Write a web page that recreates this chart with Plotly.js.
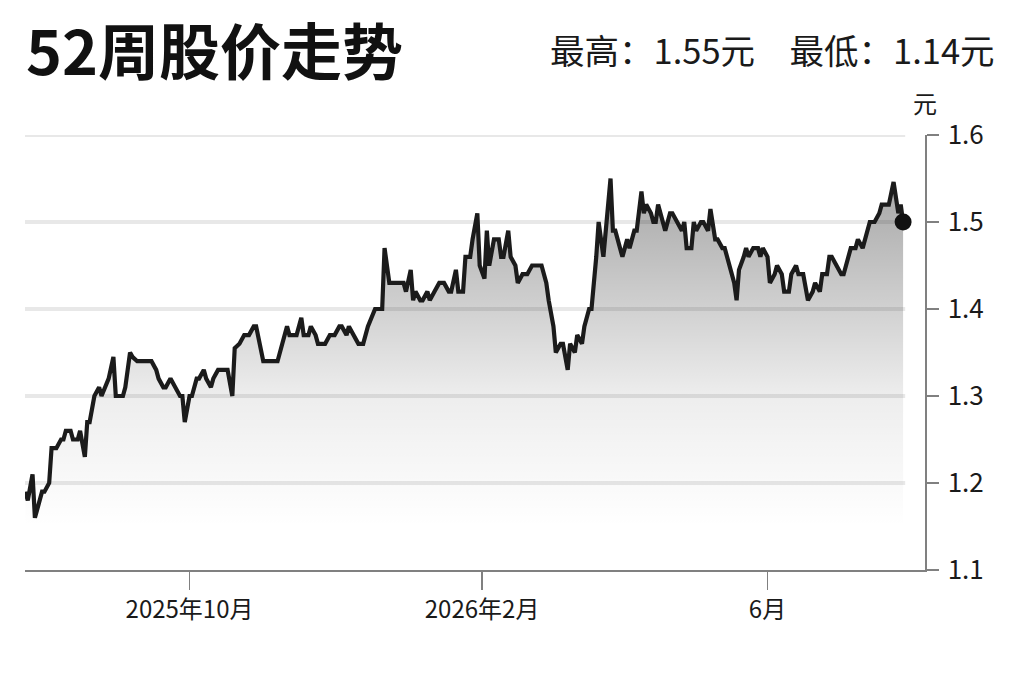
<!DOCTYPE html>
<html>
<head>
<meta charset="utf-8">
<script src="https://cdn.plot.ly/plotly-3.0.1.min.js"></script>
<style>
  html, body { margin: 0; padding: 0; background: #ffffff; }
  #chart { width: 1023px; height: 682px; }
</style>
</head>
<body>
<div id="chart"></div>
<script>
// ---- data ----
const startDate = [2025, 6, 24]; // 2025-07-24 (day 0)
const dayOffsets = [0,1,3,4,5,7,8,10,11,13,15,16,17,19,20,22,23,25,26,27,29,31,32,34,35,37,38,39,41,42,44,45,47,48,50,52,53,55,56,58,59,61,63,65,66,67,69,70,72,73,75,76,78,79,81,83,85,87,88,90,92,94,96,97,99,100,103,106,108,110,111,114,116,117,119,120,122,123,126,128,130,132,133,135,136,138,140,142,144,147,150,151,153,155,157,159,160,162,163,164,166,167,169,170,172,174,176,178,179,181,182,184,185,187,188,190,191,193,194,195,197,199,200,201,203,204,206,207,209,211,213,215,217,219,220,222,223,225,226,228,229,231,232,234,235,237,238,240,241,243,244,246,247,248,250,251,253,254,256,257,259,260,261,263,264,265,266,268,269,271,272,274,276,277,278,280,281,282,284,285,287,288,290,291,293,294,296,298,299,300,302,303,304,306,308,309,310,312,313,315,316,318,319,321,322,324,325,327,329,331,332,334,335,337,338,339,341,343,344,346,347,349,350,352,353,355,357,359,360,363,365,366,367,368,369];
const prices = [1.19,1.18,1.21,1.16,1.17,1.19,1.19,1.20,1.24,1.24,1.25,1.25,1.26,1.26,1.25,1.25,1.26,1.23,1.27,1.27,1.30,1.31,1.30,1.315,1.32,1.345,1.30,1.30,1.30,1.31,1.35,1.345,1.34,1.34,1.34,1.34,1.34,1.33,1.32,1.31,1.31,1.32,1.31,1.30,1.30,1.27,1.30,1.30,1.32,1.32,1.33,1.32,1.31,1.32,1.33,1.33,1.33,1.30,1.355,1.36,
1.37,1.37,1.38,1.38,1.35,1.34,1.34,1.34,1.36,1.38,1.37,1.37,1.39,1.37,1.37,1.38,1.37,1.36,1.36,1.37,1.37,1.38,1.38,1.37,1.38,1.37,1.36,1.36,1.38,1.40,1.40,1.47,1.43,1.43,1.43,1.43,1.42,1.445,1.41,1.42,1.41,1.41,1.42,1.41,1.42,1.43,1.43,1.42,1.42,1.445,1.42,1.42,1.46,1.46,1.48,1.51,1.45,1.435,1.49,1.45,1.48,1.48,1.46,1.46,1.49,1.46,1.45,1.43,1.44,1.44,1.45,1.45,1.45,1.43,1.41,1.38,1.35,1.36,1.36,1.33,1.36,1.35,1.37,1.36,1.38,1.40,1.40,1.46,1.50,1.46,1.49,1.55,1.49,1.49,1.47,1.46,1.48,1.47,1.49,1.49,1.535,1.51,1.52,1.51,1.50,1.50,1.52,1.50,1.49,1.51,1.51,1.50,1.49,1.50,1.47,1.47,1.50,1.49,1.50,1.50,1.49,1.515,1.48,1.48,1.47,1.47,1.45,1.43,1.41,1.445,1.46,1.47,1.46,1.47,1.47,1.46,1.47,1.46,1.43,1.44,1.45,1.44,1.42,1.42,1.44,1.45,1.44,1.44,1.41,1.42,1.43,1.42,1.44,1.44,1.46,1.46,1.45,1.44,1.44,1.46,1.47,1.47,1.48,1.47,1.48,1.50,1.50,1.51,1.52,1.52,1.546,1.525,1.51,1.52,1.50];
const tickDates = ['2025-10-01', '2026-02-01', '2026-06-01'];
const tickLabels = ['2025年10月', '2026年2月', '6月'];
const yTicks = [1.1, 1.2, 1.3, 1.4, 1.5, 1.6];
const titleText = '52周股价走势';
const highLowText = '最高：1.55元　最低：1.14元';
const unitText = '元';

// ---- build ----
const day0 = Date.UTC(startDate[0], startDate[1], startDate[2]);
const dates = dayOffsets.map(d => new Date(day0 + d * 864e5).toISOString().slice(0, 10));
const FONT = '"Noto Sans CJK SC", "Noto Sans", sans-serif';

const lineTrace = {
  x: dates, y: prices, type: 'scatter', mode: 'lines',
  line: { color: '#1b1b1b', width: 4.2, shape: 'linear' },
  fill: 'tozeroy',
  fillgradient: {
    type: 'vertical', start: 1.15, stop: 1.55,
    colorscale: [[0, 'rgba(0,0,0,0)'], [0.375, 'rgba(0,0,0,0.07)'], [1, 'rgba(0,0,0,0.35)']]
  },
  hoverinfo: 'skip', showlegend: false
};
const endTrace = {
  x: [dates[dates.length - 1]], y: [prices[prices.length - 1]],
  type: 'scatter', mode: 'markers',
  marker: { color: '#111111', size: 17 },
  hoverinfo: 'skip', showlegend: false
};

const gridShapes = yTicks.slice(1).map(v => ({
  type: 'line', xref: 'paper', yref: 'y', x0: 0, x1: 0.978, y0: v, y1: v,
  line: { color: '#e8e8e8', width: 4 }, layer: 'below'
}));

const layout = {
  width: 1023, height: 682,
  margin: { l: 25, r: 98, t: 135, b: 112 },
  paper_bgcolor: '#ffffff', plot_bgcolor: '#ffffff',
  font: { family: FONT, color: '#1a1a1a' },
  xaxis: {
    type: 'date', range: ['2025-07-23 20:00', '2026-08-06 05:00'],
    tickmode: 'array', tickvals: tickDates, ticktext: tickLabels,
    ticks: 'outside', ticklen: 18, tickwidth: 1.5, tickcolor: '#808080',
    showline: true, linecolor: '#808080', linewidth: 1.5,
    showgrid: false, zeroline: false,
    tickfont: { family: FONT, size: 24, color: '#1a1a1a' }, fixedrange: true
  },
  yaxis: {
    side: 'right', range: [1.1, 1.6],
    tickmode: 'array', tickvals: yTicks, ticktext: yTicks.map(v => v.toFixed(1)),
    ticks: 'outside', ticklen: 12, tickwidth: 1.5, tickcolor: '#808080',
    ticklabelstandoff: 4,
    showline: true, linecolor: '#808080', linewidth: 1.5,
    showgrid: false, zeroline: false,
    tickfont: { family: FONT, size: 26, color: '#1a1a1a' }, fixedrange: true
  },
  shapes: gridShapes,
  annotations: [
    { text: '<b>' + titleText + '</b>', xref: 'paper', yref: 'paper', x: 0, y: 1.198,
      xanchor: 'left', yanchor: 'middle', showarrow: false, borderpad: 0,
      font: { family: FONT, size: 61, weight: 900, color: '#111111' } },
    { text: highLowText, xref: 'paper', yref: 'paper', x: 1.08, y: 1.198,
      xanchor: 'right', yanchor: 'middle', showarrow: false,
      font: { family: FONT, size: 34.5, color: '#1a1a1a' } },
    { text: unitText, xref: 'paper', yref: 'paper', x: 1.0, y: 1.074,
      xanchor: 'center', yanchor: 'middle', showarrow: false,
      font: { family: FONT, size: 24, color: '#1a1a1a' } }
  ]
};

Plotly.newPlot('chart', [lineTrace, endTrace], layout, { displayModeBar: false, staticPlot: true });
</script>
</body>
</html>
